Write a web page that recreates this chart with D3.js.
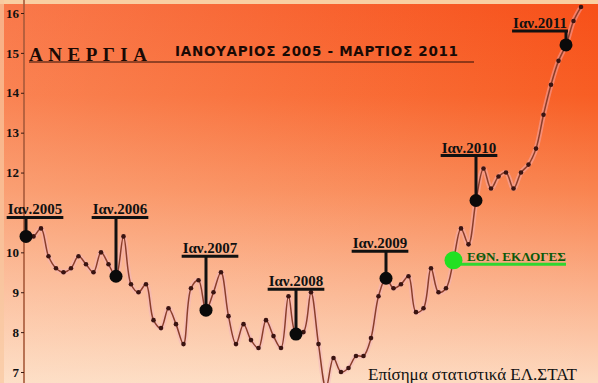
<!DOCTYPE html>
<html>
<head>
<meta charset="utf-8">
<script src="https://cdn.jsdelivr.net/npm/d3@7"></script>
<style>
body { margin: 0; background: #fff; }
svg { display: block; }
</style>
</head>
<body>
<svg id="chart" width="598" height="383"></svg>
<script>
// monthly unemployment %, Jan 2005 .. Mar 2011
var rates = [
  10.4, 10.4, 10.6, 9.9, 9.6, 9.5, 9.6, 9.9, 9.7, 9.5, 10.0, 9.7,     // 2005
  9.4, 10.4, 9.2, 9.0, 9.2, 8.3, 8.1, 8.6, 8.2, 7.7, 9.1, 9.3,        // 2006
  8.55, 9.0, 9.5, 8.4, 7.7, 8.2, 7.8, 7.6, 8.3, 7.9, 7.6, 8.9,        // 2007
  7.95, 8.0, 9.0, 7.7, 6.6, 7.35, 7.0, 7.1, 7.4, 7.4, 7.85, 8.9,      // 2008
  9.35, 9.1, 9.2, 9.4, 8.5, 8.6, 9.6, 9.0, 9.1, 9.8, 10.6, 10.2,      // 2009
  11.3, 12.1, 11.6, 11.9, 12.0, 11.6, 12.0, 12.2, 12.6, 13.45, 14.2, 14.8, // 2010
  15.2, 15.8, 16.15                                                   // 2011
];
var yearLabels = ["Ιαν.2005", "Ιαν.2006", "Ιαν.2007", "Ιαν.2008", "Ιαν.2009", "Ιαν.2010", "Ιαν.2011"];
var tickValues = [7, 8, 9, 10, 11, 12, 13, 14, 15, 16];
var hiddenTicks = [11];   // sits under the Ιαν.2005 label in the original
var electionMonth = 57;   // Oct 2009
var electionLabel = "ΕΘΝ. ΕΚΛΟΓΕΣ";
var title = "ΑΝΕΡΓΙΑ";
var subtitle = "ΙΑΝΟΥΑΡΙΟΣ 2005 - ΜΑΡΤΙΟΣ 2011";
var source = "Επίσημα στατιστικά ΕΛ.ΣΤΑΤ";

// where each year label bar sits (in % units) and its sideways shift in px
var labelLevel = [10.875, 10.875, 9.9, 9.075, 10.025, 12.425, 15.55];
var labelShift = [9, 4, 4, 0, -6, -7, -26];

var W = 598, H = 383;
var svg = d3.select("#chart");

var x = d3.scaleLinear().domain([0, 72]).range([26, 566]);
var y = d3.scaleLinear().domain([7, 16]).range([372, 13]);

// background
var defs = svg.append("defs");
var g1 = defs.append("linearGradient").attr("id", "bg").attr("x1", 0).attr("y1", 0).attr("x2", 0).attr("y2", 1);
g1.append("stop").attr("offset", "0%").attr("stop-color", "#f74f18");
g1.append("stop").attr("offset", "25%").attr("stop-color", "#f85e24");
g1.append("stop").attr("offset", "50%").attr("stop-color", "#f98450");
g1.append("stop").attr("offset", "75%").attr("stop-color", "#fbb08a");
g1.append("stop").attr("offset", "100%").attr("stop-color", "#fdd9bf");
var g2 = defs.append("linearGradient").attr("id", "side").attr("x1", 0).attr("y1", 0).attr("x2", 1).attr("y2", 0);
g2.append("stop").attr("offset", "0%").attr("stop-color", "#fff3e0").attr("stop-opacity", 0.25);
g2.append("stop").attr("offset", "100%").attr("stop-color", "#fff3e0").attr("stop-opacity", 0);

svg.append("rect").attr("width", W).attr("height", H).attr("fill", "url(#bg)");
svg.append("rect").attr("width", W).attr("height", H).attr("fill", "url(#side)");
// pale edges of the scan
svg.append("rect").attr("width", W).attr("height", 4).attr("fill", "#f9cfa2");
svg.append("rect").attr("width", 4).attr("height", H).attr("fill", "#f8c8a0").attr("opacity", 0.7);

// y axis
svg.append("line").attr("x1", 24).attr("x2", 24).attr("y1", 0).attr("y2", H)
  .attr("stroke", "#a85a3a").attr("stroke-width", 2).attr("opacity", 0.8);
var axis = svg.append("g").attr("transform", "translate(24,0)")
  .call(d3.axisLeft(y).tickValues(tickValues).tickSize(3).tickPadding(2)
    .tickFormat(function(d) { return hiddenTicks.indexOf(d) >= 0 ? "" : d3.format("d")(d); }));
axis.select(".domain").remove();
axis.selectAll("line").attr("stroke", "#3a1a10");
axis.selectAll("text").attr("font-family", "Liberation Serif, serif").attr("font-weight", "bold")
  .attr("font-size", 13).attr("fill", "#111");

// title
svg.append("text").attr("x", 29).attr("y", 61).text(title)
  .attr("font-family", "Liberation Serif, serif").attr("font-weight", "bold").attr("font-size", 19)
  .attr("fill", "#1a0a05").attr("textLength", 118).attr("lengthAdjust", "spacing");
svg.append("text").attr("x", 175).attr("y", 56).text(subtitle)
  .attr("font-family", "DejaVu Sans, sans-serif").attr("font-weight", "bold").attr("font-size", 13.5)
  .attr("fill", "#1a0a05").attr("textLength", 283).attr("lengthAdjust", "spacing");
svg.append("line").attr("x1", 29).attr("x2", 474).attr("y1", 62).attr("y2", 62)
  .attr("stroke", "#2a0e06").attr("stroke-width", 1);

// the line, with a soft halo
var line = d3.line().x(function(d, i) { return x(i); }).y(function(d) { return y(d); })
  .curve(d3.curveCatmullRom.alpha(0.5));
svg.append("path").datum(rates).attr("d", line).attr("fill", "none")
  .attr("stroke", "#f2b4c4").attr("stroke-width", 5).attr("opacity", 0.45);
svg.append("path").datum(rates).attr("d", line).attr("fill", "none")
  .attr("stroke", "#8a3e2a").attr("stroke-width", 1.5);

svg.selectAll(".pt").data(rates).enter().append("circle").attr("class", "pt")
  .attr("cx", function(d, i) { return x(i); }).attr("cy", function(d) { return y(d); })
  .attr("r", 2.3).attr("fill", "#3a1410");

// year labels
yearLabels.forEach(function(lab, k) {
  var m = k * 12;
  var px = x(m), py = y(rates[m]);
  var ly = y(labelLevel[k]);
  var cx = px + labelShift[k];
  var t = svg.append("text").attr("x", cx).attr("y", ly - 3).attr("text-anchor", "middle").text(lab)
    .attr("font-family", "Liberation Serif, serif").attr("font-weight", "bold").attr("font-size", 15)
    .attr("fill", "#111");
  var w = t.node().getComputedTextLength() + 2;
  svg.append("line").attr("x1", cx - w / 2).attr("x2", cx + w / 2).attr("y1", ly).attr("y2", ly)
    .attr("stroke", "#111").attr("stroke-width", 3);
  svg.append("line").attr("x1", px).attr("x2", px).attr("y1", ly).attr("y2", py)
    .attr("stroke", "#111").attr("stroke-width", 3);
  svg.append("circle").attr("cx", px).attr("cy", py).attr("r", 6.5).attr("fill", "#0a0a0a");
});

// election marker
var ex = x(electionMonth), ey = y(rates[electionMonth]);
svg.append("line").attr("x1", ex).attr("x2", 566).attr("y1", ey + 4).attr("y2", ey + 4)
  .attr("stroke", "#2fd62f").attr("stroke-width", 3);
svg.append("circle").attr("cx", ex).attr("cy", ey).attr("r", 9).attr("fill", "#22e022");
svg.append("text").attr("x", 467).attr("y", ey + 1).text(electionLabel)
  .attr("font-family", "Liberation Serif, serif").attr("font-weight", "bold").attr("font-size", 13)
  .attr("fill", "#0b5a0b").attr("textLength", 99).attr("lengthAdjust", "spacingAndGlyphs");

// source
svg.append("text").attr("x", 368).attr("y", 380).text(source)
  .attr("font-family", "Liberation Serif, serif").attr("font-size", 16).attr("fill", "#111")
  .attr("textLength", 209).attr("lengthAdjust", "spacingAndGlyphs");
</script>
</body>
</html>
